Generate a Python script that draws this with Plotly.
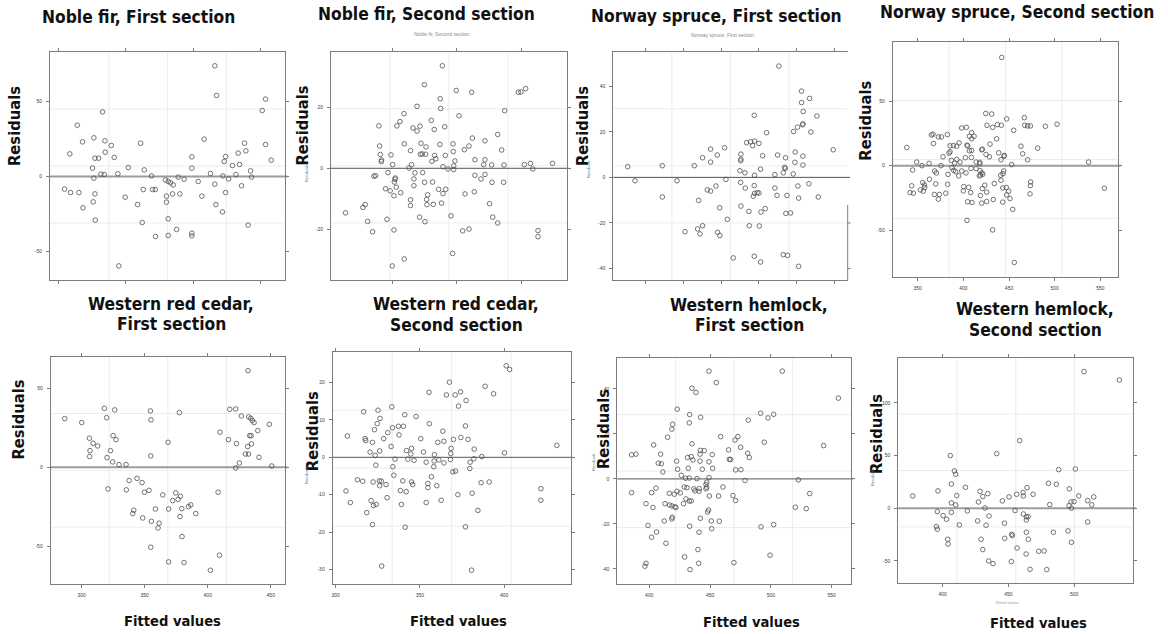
import plotly.graph_objects as go

W, H = 1168, 634
FONT = "Liberation Sans, Arial, sans-serif"
TITLE_FONT = "DejaVu Sans Condensed, DejaVu Sans, sans-serif"

# ---------------- residuals vs fitted values, per species and section ----------------
noble_fir_1_fitted = [
    416.0, 417.3, 453.6, 451.1, 332.8, 314.1, 318.0, 326.4, 334.6, 339.3,
    408.1, 438.0, 361.0, 453.6, 308.6, 334.8, 327.2, 329.9, 341.5, 399.0,
    424.0, 439.0, 433.3, 457.8, 423.0, 429.1, 434.3, 325.4, 351.9, 363.7,
    399.0, 442.5, 331.6, 334.1, 344.2, 412.8, 422.0, 431.6, 369.1, 326.4,
    388.9, 393.3, 403.7, 426.2, 443.2, 379.5, 381.5, 383.2, 385.2, 416.0,
    435.8, 304.7, 309.1, 315.3, 363.0, 369.9, 371.9, 327.2, 384.7, 390.1,
    424.0, 349.6, 380.2, 406.4, 325.9, 380.2, 358.8, 318.3, 416.8, 421.7,
    327.4, 362.2, 381.5, 440.7, 387.7, 372.1, 381.5, 399.0, 399.0, 344.9]
noble_fir_1_resid = [
    73.8, 54.0, 51.6, 44.0, 43.1, 34.2, 23.1, 25.8, 23.8, 20.7,
    24.9, 22.2, 22.2, 21.3, 15.1, 16.2, 12.2, 12.2, 12.7, 13.1,
    13.3, 17.1, 15.6, 10.9, 10.0, 7.3, 8.0, 5.6, 6.0, 4.4,
    5.6, 3.8, 1.6, 1.3, 1.8, 2.0, 0.4, 1.3, 0.4, -1.1,
    -0.4, -1.8, -3.3, -1.6, -0.4, -2.4, -3.3, -4.2, -5.6, -5.1,
    -6.2, -8.4, -10.7, -10.7, -8.7, -8.7, -8.7, -11.6, -11.6, -11.6,
    -10.7, -13.8, -13.1, -13.1, -16.9, -17.1, -18.7, -20.9, -18.7, -23.6,
    -29.1, -30.7, -28.2, -32.4, -35.3, -40.0, -39.3, -37.8, -39.6, -59.6]

noble_fir_2_fitted = [
    388.9, 374.9, 399.7, 411.7, 447.9, 450.0, 453.6, 387.3, 369.2, 387.6,
    437.3, 359.1, 401.8, 356.0, 380.3, 339.6, 353.6, 366.1, 369.2, 371.5,
    390.7, 382.6, 431.9, 412.2, 422.0, 359.3, 372.3, 376.2, 387.0, 397.2,
    409.6, 340.2, 406.0, 364.2, 435.0, 340.7, 349.0, 371.8, 373.3, 375.9,
    382.9, 391.2, 397.4, 341.7, 341.5, 383.9, 380.8, 398.7, 414.2, 422.0,
    350.3, 365.0, 421.0, 427.2, 436.8, 452.6, 457.3, 474.4, 363.0, 389.4,
    393.3, 397.7, 397.7, 459.1, 346.6, 335.8, 337.0, 367.6, 373.6, 352.3,
    352.1, 351.6, 414.2, 422.0, 418.9, 366.8, 375.1, 381.3, 427.5, 436.5,
    366.8, 353.1, 344.8, 348.4, 356.5, 386.0, 391.5, 389.4, 351.3, 406.5,
    413.7, 377.5, 376.7, 364.2, 364.2, 376.9, 381.9, 388.3, 425.6, 329.0,
    327.2, 313.7, 330.8, 345.9, 371.2, 375.4, 395.6, 428.0, 431.9, 334.7,
    351.3, 404.7, 409.6, 463.2, 463.2, 396.9, 359.3, 350.0]
noble_fir_2_resid = [
    33.6, 27.4, 25.5, 24.9, 24.9, 25.0, 26.1, 22.8, 20.3, 19.6,
    18.9, 17.9, 17.2, 15.3, 15.7, 13.9, 13.9, 13.2, 12.2, 13.8,
    13.6, 12.7, 11.1, 9.9, 9.0, 8.0, 8.2, 7.0, 7.8, 8.0,
    7.3, 7.3, 6.1, 5.8, 6.0, 4.5, 4.4, 4.6, 4.7, 4.6,
    4.2, 4.2, 5.5, 2.7, 2.2, 3.1, 2.3, 2.4, 2.8, 2.8,
    1.2, 1.2, 1.2, 1.1, 1.1, 1.2, 1.6, 1.6, 0.1, 0.5,
    -0.2, 0.8, -0.4, -0.2, -1.4, -2.6, -2.4, -1.5, -1.4, -3.2,
    -3.6, -4.5, -2.3, -2.0, -3.5, -3.5, -4.6, -4.5, -4.6, -4.6,
    -5.7, -6.2, -6.7, -7.4, -8.0, -6.9, -6.9, -8.3, -9.0, -8.4,
    -7.7, -8.7, -10.2, -10.3, -12.2, -11.9, -11.8, -11.4, -11.6, -11.9,
    -12.8, -14.6, -17.4, -16.7, -16.0, -17.5, -15.6, -16.0, -17.9, -20.8,
    -20.2, -20.5, -19.9, -20.4, -22.4, -27.9, -29.7, -32.0]

norway_spruce_1_fitted = [
    576.5, 606.6, 617.3, 606.6, 608.8, 543.8, 627.0, 601.3, 608.4, 608.0,
    596.0, 619.0, 560.2, 533.6, 538.9, 544.2, 550.0, 541.6, 485.8, 504.4,
    648.7, 526.1, 494.7, 475.2, 554.9, 574.8, 585.4, 608.4, 598.2, 526.1,
    525.7, 485.8, 597.8, 421.7, 464.2, 375.7, 584.1, 585.0, 608.4, 524.8,
    531.4, 552.2, 571.2, 595.6, 582.3, 544.2, 385.4, 441.2, 506.2, 525.7,
    492.9, 481.4, 485.8, 531.9, 543.8, 571.2, 601.8, 616.4, 544.2, 547.8,
    550.0, 542.5, 421.7, 573.9, 587.2, 602.7, 628.8, 469.9, 497.8, 526.1,
    558.4, 536.7, 552.7, 585.8, 592.0, 508.0, 475.2, 468.6, 537.2, 550.4,
    451.8, 471.7, 495.1, 498.2, 515.9, 543.8, 582.3, 588.1, 552.2, 602.7]
norway_spruce_1_resid = [
    48.8, 37.8, 34.6, 32.8, 28.9, 27.2, 26.9, 22.0, 23.4, 23.1,
    20.1, 19.9, 19.6, 15.2, 15.6, 15.9, 14.9, 13.9, 12.4, 13.0,
    12.1, 10.2, 9.8, 8.6, 9.5, 9.8, 8.6, 9.3, 11.1, 8.0,
    7.3, 6.7, 6.6, 5.1, 5.1, 4.7, 4.4, 3.9, 5.4, 2.9,
    2.0, 3.6, 1.2, 1.5, 2.0, 0.9, -1.5, -1.5, -0.9, -2.2,
    -3.8, -5.5, -6.0, -4.7, -3.6, -4.7, -3.8, -2.8, -7.0, -6.7,
    -6.9, -8.3, -8.6, -7.9, -7.9, -9.1, -8.6, -10.1, -13.3, -12.6,
    -13.7, -14.9, -15.2, -15.8, -15.6, -18.4, -21.2, -22.6, -21.2, -21.3,
    -23.8, -24.8, -24.1, -25.5, -35.3, -34.6, -33.9, -34.2, -37.1, -39.0]

norway_spruce_2_fitted = [
    442.0, 424.5, 431.0, 466.8, 447.4, 425.9, 432.1, 437.2, 441.6, 467.2,
    470.4, 473.4, 489.8, 502.6, 398.2, 403.3, 455.1, 409.1, 366.8, 365.0,
    382.5, 372.6, 375.9, 411.7, 406.6, 409.1, 436.5, 367.2, 338.0, 395.3,
    389.1, 392.7, 385.4, 404.0, 404.7, 429.2, 463.1, 481.4, 409.1, 420.1,
    420.8, 406.6, 385.4, 384.3, 424.8, 465.0, 438.7, 444.5, 444.9, 377.7,
    402.2, 408.8, 428.5, 441.2, 470.4, 392.7, 390.5, 386.9, 396.4, 413.9,
    417.9, 417.9, 348.9, 362.4, 375.5, 354.7, 452.9, 537.2, 387.6, 408.4,
    344.5, 368.6, 370.4, 383.2, 389.4, 391.6, 398.2, 402.9, 413.9, 418.2,
    420.4, 421.2, 444.2, 443.4, 440.9, 394.9, 418.6, 417.5, 362.8, 355.5,
    357.3, 357.7, 369.7, 343.4, 352.9, 356.2, 341.6, 345.3, 382.8, 400.4,
    400.0, 405.8, 408.0, 423.4, 420.8, 433.9, 441.2, 443.1, 447.1, 447.4,
    449.6, 473.7, 473.4, 473.0, 554.4, 368.2, 373.7, 380.7, 372.6, 418.6,
    425.5, 404.7, 409.5, 420.1, 425.5, 432.8, 443.1, 451.1, 454.0, 404.0,
    432.1, 455.8]
norway_spruce_2_resid = [
    83.8, 40.5, 40.0, 37.2, 36.2, 31.3, 29.7, 31.8, 31.3, 31.3,
    30.8, 30.8, 30.5, 32.1, 29.2, 29.7, 27.4, 25.6, 24.4, 23.8,
    24.1, 22.3, 22.3, 22.8, 22.8, 20.8, 20.8, 17.2, 14.1, 17.7,
    15.6, 15.1, 15.4, 15.9, 15.4, 16.7, 15.1, 13.6, 11.8, 12.3,
    12.8, 11.5, 10.8, 9.7, 8.7, 9.2, 10.0, 7.4, 7.9, 6.9,
    6.2, 6.4, 6.9, 4.6, 4.6, 4.9, 2.1, 4.1, 2.8, 2.8,
    2.6, 1.5, 2.8, 1.8, 0.0, 0.0, 0.8, 2.8, -1.5, -2.1,
    -3.3, -4.1, -5.6, -6.7, -3.6, -4.6, -4.1, -5.6, -2.3, -3.8,
    -5.6, -6.7, -4.1, -6.2, -7.4, -7.9, -7.2, -7.9, -10.5, -13.1,
    -14.9, -16.9, -14.1, -15.6, -18.7, -19.7, -20.8, -21.3, -14.4, -16.2,
    -19.5, -16.7, -20.8, -15.1, -17.7, -13.8, -11.3, -17.2, -16.9, -22.6,
    -19.7, -12.6, -15.4, -21.8, -17.4, -22.3, -22.3, -21.3, -25.9, -23.1,
    -20.5, -27.9, -28.5, -29.0, -27.7, -26.2, -28.2, -25.4, -33.8, -42.3,
    -49.7, -74.9]

red_cedar_1_fitted = [
    432.0, 318.0, 326.2, 354.5, 377.5, 417.5, 422.2, 286.5, 319.8, 355.0,
    426.7, 432.5, 434.1, 435.4, 436.8, 448.9, 300.0, 324.9, 327.2, 409.8,
    439.7, 416.4, 433.3, 434.4, 368.5, 306.1, 309.0, 312.7, 306.6, 322.8,
    422.8, 434.7, 431.7, 429.9, 432.3, 440.7, 306.3, 320.1, 324.6, 329.6,
    335.2, 354.8, 425.1, 422.2, 450.8, 337.6, 343.9, 347.9, 349.7, 353.4,
    335.4, 320.9, 364.3, 374.6, 372.2, 376.5, 378.3, 379.4, 384.7, 386.5,
    369.0, 358.5, 390.5, 341.3, 340.5, 348.4, 378.0, 355.3, 361.4, 360.6,
    408.2, 379.6, 354.8, 409.3, 369.0, 381.2, 402.1]
red_cedar_1_resid = [
    61.2, 37.3, 36.3, 35.7, 34.6, 36.7, 36.9, 30.8, 31.4, 30.0,
    32.5, 31.9, 31.0, 29.5, 28.3, 27.2, 28.3, 20.0, 17.5, 22.2,
    23.2, 17.5, 20.0, 20.0, 15.8, 18.4, 15.2, 13.5, 10.5, 10.5,
    15.0, 14.8, 13.1, 8.4, 8.4, 6.3, 6.8, 6.1, 3.4, 1.7,
    1.7, 7.2, 2.7, -0.4, 0.8, -8.4, -7.0, -9.7, -15.8, -14.6,
    -14.3, -13.7, -17.5, -16.2, -21.1, -20.3, -18.4, -26.2, -24.9, -23.8,
    -26.4, -26.4, -29.3, -27.2, -29.3, -32.1, -31.2, -34.2, -35.4, -38.4,
    -15.8, -43.9, -50.6, -55.7, -59.9, -60.3, -65.2]

red_cedar_2_fitted = [
    401.2, 403.2, 367.5, 388.7, 355.4, 365.7, 370.9, 374.1, 393.7, 377.4,
    372.9, 333.3, 316.6, 325.1, 341.0, 326.3, 347.7, 324.6, 355.6, 337.2,
    340.2, 333.7, 377.0, 330.9, 363.6, 323.0, 306.9, 337.6, 350.5, 328.5,
    317.4, 317.8, 321.8, 364.2, 360.6, 369.9, 374.3, 378.6, 342.0, 344.6,
    345.0, 352.1, 358.6, 368.3, 368.5, 382.2, 320.4, 326.1, 400.2, 386.7,
    332.9, 335.2, 342.8, 346.5, 353.7, 358.4, 361.2, 364.2, 368.1, 379.8,
    382.0, 323.4, 323.8, 333.9, 358.2, 379.6, 356.8, 369.5, 371.1, 312.9,
    316.0, 322.2, 325.9, 327.1, 326.1, 329.9, 334.5, 339.8, 345.0, 345.7,
    354.7, 354.7, 360.0, 338.4, 341.8, 306.1, 308.7, 330.5, 321.0, 322.4,
    324.0, 339.0, 353.7, 362.6, 372.5, 381.0, 386.3, 391.1, 421.8, 421.8,
    318.4, 321.8, 341.2, 377.0, 384.4, 327.3, 380.6, 431.3]
red_cedar_2_resid = [
    24.5, 23.5, 20.1, 19.0, 17.4, 16.7, 16.7, 17.5, 17.0, 15.2,
    13.7, 13.5, 12.2, 12.6, 11.4, 10.4, 10.9, 9.0, 9.0, 8.3,
    8.3, 7.9, 8.4, 6.6, 7.0, 7.4, 5.7, 6.0, 5.0, 5.0,
    5.0, 4.5, 4.0, 4.3, 4.0, 4.8, 5.3, 4.8, 1.8, 0.9,
    2.4, 1.4, 0.7, 1.0, 2.4, 2.2, 1.4, 1.7, 1.2, 0.2,
    2.9, -0.5, -0.5, -0.8, -1.3, -1.0, -0.7, -1.5, -0.6, -1.3,
    -0.4, 0.5, -2.1, -2.5, -2.5, -3.0, -5.2, -3.9, -3.7, -6.0,
    -6.4, -6.6, -6.3, -6.4, -7.6, -7.3, -4.8, -6.3, -6.6, -7.3,
    -7.0, -8.1, -7.6, -8.9, -9.2, -9.0, -12.1, -10.8, -11.6, -12.9,
    -12.6, -12.6, -12.1, -11.5, -10.0, -9.6, -6.8, -6.6, -8.4, -11.5,
    -14.8, -18.0, -18.7, -18.6, -14.2, -29.1, -30.2, 3.2]

hemlock_1_fitted = [
    449.1, 509.4, 455.1, 435.1, 438.4, 555.5, 423.0, 433.2, 491.6, 502.3,
    442.2, 497.6, 481.4, 432.9, 419.2, 418.6, 458.7, 472.9, 415.1, 470.5,
    494.6, 403.6, 435.1, 475.1, 543.4, 385.5, 389.0, 409.3, 465.3, 442.0,
    445.2, 441.7, 451.8, 480.9, 482.3, 434.5, 431.5, 435.9, 407.4, 409.9,
    422.5, 441.7, 449.1, 465.8, 466.9, 411.2, 423.3, 432.1, 443.6, 452.1,
    471.0, 475.4, 426.3, 429.9, 432.9, 439.2, 449.1, 478.7, 522.6, 405.5,
    401.9, 385.5, 416.5, 420.6, 422.8, 425.5, 428.8, 431.0, 436.7, 437.6,
    441.1, 440.9, 447.2, 446.6, 447.2, 446.6, 449.4, 460.6, 457.0, 468.8,
    471.0, 531.9, 397.3, 412.9, 416.7, 418.6, 421.1, 421.9, 428.2, 430.2,
    432.9, 434.5, 448.8, 448.0, 520.1, 529.1, 403.0, 412.3, 418.9, 418.6,
    442.0, 451.0, 457.6, 433.2, 451.3, 398.9, 406.0, 401.9, 413.7, 491.9,
    502.3, 440.9, 440.0, 429.1, 499.3, 469.6, 440.6, 396.4, 397.3, 433.5]
hemlock_1_resid = [
    47.9, 47.9, 42.8, 40.3, 38.4, 35.9, 31.0, 28.6, 29.2, 28.7,
    27.4, 27.1, 26.1, 24.9, 24.3, 22.1, 18.8, 18.8, 18.5, 17.3,
    16.3, 15.1, 15.6, 14.1, 14.8, 10.7, 11.0, 11.0, 12.9, 12.7,
    12.6, 11.0, 10.8, 11.4, 9.5, 9.9, 9.5, 8.4, 7.0, 6.7,
    7.9, 7.9, 7.6, 8.7, 8.6, 3.1, 4.3, 4.7, 4.3, 4.7,
    4.0, 4.1, 1.6, 0.3, 0.4, 0.1, 0.6, -0.7, -0.4, -4.1,
    -6.1, -6.1, -6.4, -6.8, -5.5, -6.2, -3.6, -3.9, -4.4, -5.3,
    -4.3, -5.5, -1.5, -2.5, -3.7, -4.4, -7.6, -3.6, -7.6, -7.4,
    -9.6, -6.5, -11.0, -11.0, -11.6, -12.0, -12.4, -12.7, -11.0, -8.9,
    -9.8, -9.8, -13.8, -14.7, -12.6, -13.2, -12.7, -18.7, -17.0, -17.8,
    -17.5, -18.7, -18.8, -21.0, -22.1, -20.7, -23.6, -25.9, -28.6, -21.3,
    -20.3, -23.7, -31.4, -34.7, -33.9, -37.2, -37.5, -38.8, -37.5, -40.3]

hemlock_2_fitted = [
    507.6, 534.5, 458.6, 441.1, 405.8, 488.3, 501.0, 408.9, 409.9, 417.3,
    406.6, 480.5, 486.5, 464.2, 396.4, 428.4, 434.3, 456.3, 461.2, 468.8,
    496.4, 503.6, 510.4, 515.0, 513.5, 410.7, 430.5, 377.2, 445.4, 450.5,
    461.4, 427.2, 406.6, 409.9, 481.5, 497.7, 500.0, 496.2, 498.0, 432.2,
    395.9, 406.6, 418.8, 455.1, 400.3, 403.0, 435.3, 461.4, 463.7, 465.0,
    463.7, 426.6, 412.7, 395.2, 395.9, 447.0, 433.0, 510.4, 463.7, 484.3,
    495.4, 452.5, 453.0, 403.8, 429.2, 404.1, 447.2, 465.2, 498.0, 430.5,
    456.6, 463.5, 473.1, 477.2, 435.0, 438.3, 452.3, 466.5, 479.2]
hemlock_2_resid = [
    129.7, 121.8, 64.2, 51.9, 50.0, 36.7, 37.3, 35.4, 32.3, 19.9,
    23.1, 23.7, 22.8, 19.6, 16.5, 16.1, 13.9, 13.3, 14.9, 13.3,
    18.4, 11.7, 7.3, 10.8, 3.2, 12.0, 11.1, 11.7, 7.0, 10.8,
    11.7, 6.0, 5.1, 3.2, 3.5, 6.0, 6.3, 2.5, 0.0, 0.3,
    -3.2, -3.8, -2.5, -2.2, -7.0, -10.4, -7.3, -5.4, -8.2, -7.9,
    -11.1, -12.0, -15.8, -17.4, -19.9, -14.2, -16.1, -13.0, -22.8, -22.8,
    -21.5, -24.7, -25.9, -29.4, -29.4, -33.9, -28.5, -29.4, -32.3, -39.2,
    -37.7, -43.4, -40.8, -40.5, -50.0, -52.5, -50.6, -57.9, -58.2]

# ---------------- panel layout (pixel boxes in the 1168 x 634 page) ----------------
panels = [
    dict(title=["Noble fir, First section"], tpos=(138, 17, 24),
         x=noble_fir_1_fitted, y=noble_fir_1_resid,
         box=(50, 52, 285, 280), xr=(293.9, 468.0), yr=(-69.0, 83.0),
         xt=[300, 350, 400, 450], yt=[-50, 0, 50], xlab=False,
         zero="thick", ylab=(15, 126), ylab_small=None),
    dict(title=["Noble fir, Second section"], tpos=(426, 14, 24),
         x=noble_fir_2_fitted, y=noble_fir_2_resid,
         box=(331, 51.7, 566.7, 280), xr=(302.4, 485.5), yr=(-36.6, 38.2),
         xt=[350, 400, 450], yt=[-20, 0, 20], xlab=False,
         zero="thin", ylab=(302.5, 126), ylab_small=(306, 173)),
    dict(title=["Norway spruce, First section"], tpos=(716, 16.5, 24),
         x=norway_spruce_1_fitted, y=norway_spruce_1_resid,
         box=(613.3, 51.7, 847.7, 280), xr=(356.6, 667.9), yr=(-45.0, 55.1),
         xt=[400, 450, 500, 550, 600, 650], yt=[-40, -20, 0, 20, 40], xlab=False,
         zero="thin", ylab=(583, 126), ylab_small=(588, 169), partial_right=True),
    dict(title=["Norway spruce, Second section"], tpos=(1017, 12, 24),
         x=norway_spruce_2_fitted, y=norway_spruce_2_resid,
         box=(892.7, 41.7, 1118.3, 277.3), xr=(322.6, 569.7), yr=(-86.4, 96.0),
         xt=[350, 400, 450, 500, 550], yt=[-50, 0, 50], xlab=True,
         zero="thick", ylab=(864.7, 121), ylab_small=None),
    dict(title=["Western red cedar,", "First section"], tpos=(171, 304, 20),
         x=red_cedar_1_fitted, y=red_cedar_1_resid,
         box=(50.7, 356.7, 285, 584), xr=(275.4, 461.3), yr=(-73.9, 70.0),
         xt=[300, 350, 400, 450], yt=[-50, 0, 50], xlab=True,
         zero="thick", ylab=(17.5, 420), ylab_small=None, fitted=(172, 620)),
    dict(title=["Western red cedar,", "Second section"], tpos=(456, 304, 21),
         x=red_cedar_2_fitted, y=red_cedar_2_resid,
         box=(332.7, 352.3, 570.7, 584), xr=(298.2, 439.5), yr=(-33.9, 28.1),
         xt=[300, 350, 400], yt=[-30, -20, -10, 0, 10, 20], xlab=True,
         zero="thin", ylab=(312.5, 431.7), ylab_small=(306, 475), fitted=(458.5, 620)),
    dict(title=["Western hemlock,", "First section"], tpos=(749, 305, 20),
         x=hemlock_1_fitted, y=hemlock_1_resid,
         box=(617.3, 358.3, 851, 584), xr=(373.7, 565.9), yr=(-46.7, 53.6),
         xt=[400, 450, 500, 550], yt=[-40, -20, 0, 20, 40], xlab=True,
         zero="thin", ylab=(603, 429), ylab_small=(593, 462), fitted=(751, 621)),
    dict(title=["Western hemlock,", "Second section"], tpos=(1035, 309, 20.5),
         x=hemlock_2_fitted, y=hemlock_2_resid,
         box=(898.3, 357.7, 1133.3, 583.3), xr=(366.2, 545.1), yr=(-71.2, 142.9),
         xt=[400, 450, 500], yt=[-50, 0, 50, 100], xlab=True,
         zero="thick", ylab=(876, 434), ylab_small=(872, 477), fitted=(1038, 622)),
]


def px_x(v):
    return v / W


def px_y(v):
    return 1 - v / H


def label(text, x, y, size, angle=0, color="#111111", bold=True, family=TITLE_FONT):
    return dict(text=text, x=px_x(x), y=px_y(y), xref="paper", yref="paper",
                showarrow=False, xanchor="center", yanchor="middle",
                textangle=angle,
                font=dict(family=family, size=size, color=color,
                          weight="bold" if bold else "normal"))


fig = go.Figure()
annotations = []
shapes = []

tick_font = dict(family=FONT, size=5, color="#3a3a3a")
frame = "#7c7c7c"

for i, p in enumerate(panels, start=1):
    sfx = "" if i == 1 else str(i)
    xa, ya = f"x{sfx}", f"y{sfx}"
    x0, y0, x1, y1 = p["box"]
    fig.add_trace(go.Scatter(
        x=p["x"], y=p["y"], mode="markers", xaxis=xa, yaxis=ya,
        marker=dict(symbol="circle-open", size=4.6, color="#505050",
                    line=dict(width=0.8, color="#505050")),
        showlegend=False, hoverinfo="x+y"))

    common = dict(showgrid=False, zeroline=False, showline=True, linecolor=frame,
                  linewidth=1, ticks="outside", ticklen=3, tickcolor=frame,
                  tickwidth=1, tickfont=tick_font, ticklabelstandoff=3)
    fig.layout[f"xaxis{sfx}"] = dict(
        domain=[px_x(x0), px_x(x1)], range=list(p["xr"]), anchor=ya,
        tickvals=p["xt"], ticktext=[str(v) for v in p["xt"]],
        showticklabels=p["xlab"], mirror="ticks", **common)
    fig.layout[f"yaxis{sfx}"] = dict(
        domain=[px_y(y1), px_y(y0)], range=list(p["yr"]), anchor=xa,
        tickvals=p["yt"], ticktext=[str(v) for v in p["yt"]],
        mirror=False if p.get("partial_right") else "ticks", **common)

    # light reference grid at the quarter points of the frame
    for f in (0.25, 0.5, 0.75):
        shapes.append(dict(type="line", xref=f"{xa} domain", yref=f"{ya} domain",
                           x0=f, x1=f, y0=0, y1=1, layer="below",
                           line=dict(color="#ececec", width=1)))
        shapes.append(dict(type="line", xref=f"{xa} domain", yref=f"{ya} domain",
                           x0=0, x1=1, y0=f, y1=f, layer="below",
                           line=dict(color="#ececec", width=1)))

    # horizontal reference line at zero residual
    if p["zero"] == "thick":
        zline = dict(color="#9c9c9c", width=2)
    else:
        zline = dict(color="#555555", width=1)
    shapes.append(dict(type="line", xref=f"{xa} domain", yref=ya,
                       x0=0, x1=1.01, y0=0, y1=0, layer="below", line=zline))

    # right frame drawn only on its lower part
    if p.get("partial_right"):
        xr_px = x1
        shapes.append(dict(type="line", xref="paper", yref="paper",
                           x0=px_x(xr_px), x1=px_x(xr_px),
                           y0=px_y(y1), y1=px_y(205), line=dict(color=frame, width=1)))
        for v in (-20, -40):
            shapes.append(dict(type="line", xref="paper", yref=ya,
                               x0=px_x(xr_px), x1=px_x(xr_px + 3), y0=v, y1=v,
                               line=dict(color=frame, width=1)))

    # panel title
    tx, ty, gap = p["tpos"]
    for k, line in enumerate(p["title"]):
        annotations.append(label(line, tx, ty + k * gap, 17.3))

    # axis titles
    annotations.append(label("Residuals", p["ylab"][0], p["ylab"][1], 16.4, angle=-90))
    if p.get("ylab_small"):
        annotations.append(label("Residuals", p["ylab_small"][0], p["ylab_small"][1],
                                 4, angle=-90, color="#5b6e99", bold=False, family=FONT))
    if p.get("fitted"):
        annotations.append(label("Fitted values", p["fitted"][0], p["fitted"][1], 14.6))

# small faded captions left over from the original lattice output
annotations.append(label("Noble fir, Second section", 442, 34, 5, color="#8a8a8a",
                         bold=False, family=FONT))
annotations.append(label("Norway spruce, First section", 723, 35, 5, color="#8a8a8a",
                         bold=False, family=FONT))
annotations.append(label("Fitted values", 1007, 602, 4, color="#9a9a9a",
                         bold=False, family=FONT))

fig.update_layout(
    width=W, height=H, margin=dict(l=0, r=0, t=0, b=0),
    paper_bgcolor="white", plot_bgcolor="white",
    annotations=annotations, shapes=shapes,
    font=dict(family=FONT),
)

fig.write_html("out.html")
